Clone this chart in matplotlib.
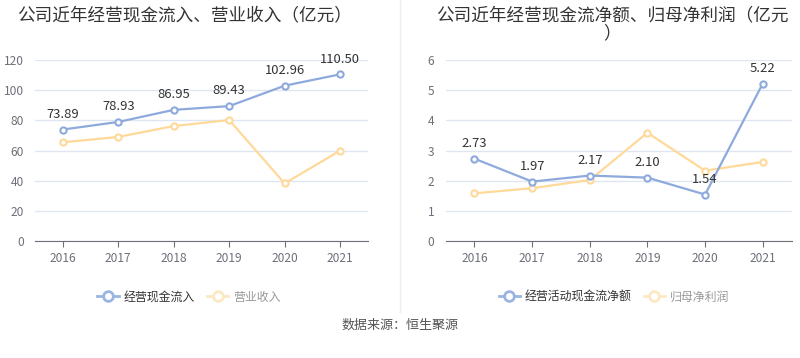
import matplotlib.pyplot as plt
from matplotlib.lines import Line2D

plt.rcParams['font.family'] = ['Noto Sans CJK SC', 'DejaVu Sans']

years = ['2016', '2017', '2018', '2019', '2020', '2021']
cash_inflow = [73.89, 78.93, 86.95, 89.43, 102.96, 110.50]
revenue = [65.4, 69.0, 76.2, 80.2, 38.2, 59.9]
net_cash = [2.73, 1.97, 2.17, 2.10, 1.54, 5.22]
net_profit = [1.58, 1.75, 2.02, 3.59, 2.33, 2.62]

blue = '#8eaadc'
orange = '#ffd99a'
blue_leg = '#9bb5e2'
orange_leg = '#fde8c4'

fig = plt.figure(figsize=(8, 3.58), dpi=100)
ax1 = fig.add_axes([0.0438, 0.3268, 0.416, 0.5056])
ax2 = fig.add_axes([0.557, 0.3268, 0.4325, 0.5056])


def style_axis(ax, ymax, step):
    x = range(len(years))
    ax.set_xlim(-0.5, len(years) - 0.5)
    ax.set_ylim(0, ymax)
    ax.set_yticks(range(0, ymax + 1, step))
    ax.set_xticks(list(x))
    ax.set_xticklabels(years)
    ax.grid(axis='y', color='#e0e6f1', linewidth=1)
    ax.set_axisbelow(True)
    for s in ['top', 'right', 'left']:
        ax.spines[s].set_visible(False)
    ax.spines['bottom'].set_color('#6e7079')
    ax.tick_params(axis='y', length=0, labelsize=8.6, labelcolor='#6e7079', pad=8)
    ax.tick_params(axis='x', length=4, color='#6e7079', labelsize=8.6,
                   labelcolor='#6e7079', pad=4)


def draw(ax, main, second):
    x = range(len(years))
    ax.plot(x, second, color=orange, lw=1.6, marker='o', ms=4.5,
            mfc='white', mec=orange, mew=1.5, zorder=3)
    ax.plot(x, main, color=blue, lw=1.6, marker='o', ms=4.5,
            mfc='white', mec=blue, mew=1.5, zorder=4)
    for i, v in enumerate(main):
        ax.annotate(f'{v:.2f}', (i, v), xytext=(0, 11), textcoords='offset points',
                    ha='center', va='center', fontsize=9.4, color='#333333', zorder=5)


style_axis(ax1, 120, 20)
draw(ax1, cash_inflow, revenue)
style_axis(ax2, 6, 1)
draw(ax2, net_cash, net_profit)

fig.text(185 / 800, 1 - 15 / 358, '公司近年经营现金流入、营业收入（亿元）',
         ha='center', va='center', fontsize=12.7, color='#333333')
fig.text(612 / 800, 1 - 24 / 358, '公司近年经营现金流净额、归母净利润（亿元\n）',
         ha='center', va='center', fontsize=12.7, color='#333333',
         multialignment='center', linespacing=1.0)

fig.add_artist(Line2D([0.5, 0.5], [1, 1 - 312 / 358], transform=fig.transFigure,
                      color='#eeeeee', lw=1))


def legend(labels, xc):
    h = [Line2D([], [], color=blue_leg, lw=2, marker='o', ms=7, mfc='white',
                mec=blue_leg, mew=2),
         Line2D([], [], color=orange_leg, lw=2, marker='o', ms=7, mfc='white',
                mec=orange_leg, mew=2)]
    leg = fig.legend(h, labels, loc='center', bbox_to_anchor=(xc / 800, 1 - 297 / 358),
                     ncol=2, frameon=False, fontsize=8.6, handlelength=1.8,
                     handletextpad=0.4, columnspacing=1.0)
    leg.get_texts()[0].set_color('#333333')
    leg.get_texts()[1].set_color('#999999')


legend(['经营现金流入', '营业收入'], 189)
legend(['经营活动现金流净额', '归母净利润'], 614)

fig.text(0.5, 1 - 325 / 358, '数据来源：恒生聚源', ha='center', va='center',
         fontsize=9.4, color='#555555')

fig.savefig('out.png', dpi=100)
